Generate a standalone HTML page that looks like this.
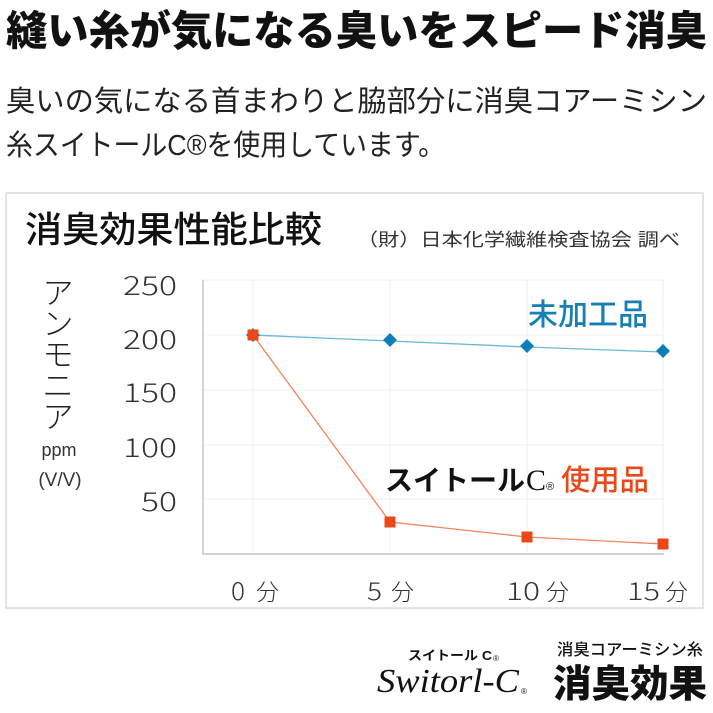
<!DOCTYPE html>
<html><head><meta charset="utf-8"><style>
html,body{margin:0;padding:0;background:#fff;width:713px;height:713px;overflow:hidden}
svg{display:block}
.jp{font-family:"Liberation Sans","Noto Sans CJK JP",sans-serif}
.num{font-family:"Noto Sans CJK JP","Liberation Sans",sans-serif;font-weight:300}
</style></head><body>
<svg width="713" height="713" viewBox="0 0 713 713" xmlns="http://www.w3.org/2000/svg">
<rect width="713" height="713" fill="#fff"/>
<text class="jp" x="6" y="45" font-size="41" font-weight="900" fill="#111" textLength="701" lengthAdjust="spacingAndGlyphs">縫い糸が気になる臭いをスピード消臭</text>
<text class="jp" x="6" y="111" font-size="29" font-weight="400" fill="#222" textLength="701" lengthAdjust="spacingAndGlyphs">臭いの気になる首まわりと脇部分に消臭コアーミシン</text>
<text class="jp" x="6" y="155" font-size="29" font-weight="400" fill="#222" textLength="439" lengthAdjust="spacingAndGlyphs">糸スイトールC®を使用しています。</text>

<rect x="6" y="193" width="697" height="415" fill="#fff" stroke="#dcdcdc" stroke-width="1.5"/>
<text class="jp" x="25" y="242" font-size="36" font-weight="500" fill="#111" textLength="297" lengthAdjust="spacingAndGlyphs">消臭効果性能比較</text>
<text class="jp" x="357" y="246" font-size="18" font-weight="400" fill="#333" textLength="323" lengthAdjust="spacingAndGlyphs">（財）日本化学繊維検査協会 調べ</text>

<!-- grid -->
<g stroke="#efefef" stroke-width="1">
<line x1="203" y1="280" x2="663" y2="280"/>
<line x1="203" y1="335" x2="663" y2="335"/>
<line x1="203" y1="390" x2="663" y2="390"/>
<line x1="203" y1="445" x2="663" y2="445"/>
<line x1="203" y1="499" x2="663" y2="499"/>
<line x1="253" y1="280" x2="253" y2="554"/>
<line x1="390" y1="280" x2="390" y2="554"/>
<line x1="527" y1="280" x2="527" y2="554"/>
<line x1="663" y1="280" x2="663" y2="554"/>
</g>
<line x1="203" y1="280" x2="203" y2="555" stroke="#d4d4d4" stroke-width="2"/>
<line x1="202" y1="554" x2="664" y2="554" stroke="#d4d4d4" stroke-width="2"/>

<!-- y ticks -->
<g class="num" font-size="26" fill="#333">
<text x="123" y="295" textLength="54" lengthAdjust="spacingAndGlyphs">250</text>
<text x="123" y="349" textLength="54" lengthAdjust="spacingAndGlyphs">200</text>
<text x="123" y="402" textLength="54" lengthAdjust="spacingAndGlyphs">150</text>
<text x="123" y="457" textLength="54" lengthAdjust="spacingAndGlyphs">100</text>
<text x="141" y="511" textLength="36" lengthAdjust="spacingAndGlyphs">50</text>
</g>

<!-- y axis title -->
<g class="jp" font-size="31" font-weight="300" fill="#222" text-anchor="middle">
<text x="58" y="304">ア</text>
<text x="58" y="335">ン</text>
<text x="58" y="366">モ</text>
<text x="58" y="397">ニ</text>
<text x="58" y="428">ア</text>
</g>
<text x="59" y="456" font-family="Liberation Sans, sans-serif" font-size="18" fill="#333" text-anchor="middle">ppm</text>
<text x="60" y="486" font-family="Liberation Sans, sans-serif" font-size="19" fill="#333" text-anchor="middle">(V/V)</text>

<!-- x labels -->
<g class="num" font-size="25" fill="#333">
<text x="231" y="600" textLength="14" lengthAdjust="spacingAndGlyphs">0</text>
<text x="367" y="600" textLength="15" lengthAdjust="spacingAndGlyphs">5</text>
<text x="506" y="600" textLength="34" lengthAdjust="spacingAndGlyphs">10</text>
<text x="627" y="600" textLength="33" lengthAdjust="spacingAndGlyphs">15</text>
</g>
<g class="jp" font-size="23" font-weight="300" fill="#333">
<text x="256" y="600">分</text>
<text x="391" y="600">分</text>
<text x="546" y="600">分</text>
<text x="665" y="600">分</text>
</g>

<!-- series -->
<polyline points="253,335 390,341 527,347 663,352" fill="none" stroke="#6db7da" stroke-width="1.3"/>
<polyline points="253,335 390,522 527,537 663,544" fill="none" stroke="#f2845f" stroke-width="1.3"/>
<g fill="#0e7fb6">
<polygon points="253,328 260,335 253,342 246,335"/>
<polygon points="390,333 397,340 390,347 383,340"/>
<polygon points="527,339 534,346 527,353 520,346"/>
<polygon points="663,344 670,351 663,358 656,351"/>
</g>
<g fill="#e8481a">
<rect x="247.5" y="329.5" width="11" height="11"/>
<rect x="384.5" y="516.5" width="11" height="11"/>
<rect x="521.5" y="531.5" width="11" height="11"/>
<rect x="657.5" y="538.5" width="11" height="11"/>
</g>

<!-- legends -->
<text class="jp" x="528" y="325" font-size="30" font-weight="500" fill="#1580b5" textLength="120" lengthAdjust="spacingAndGlyphs">未加工品</text>
<text class="jp" x="385" y="490" font-size="28" font-weight="700" fill="#111" textLength="140" lengthAdjust="spacingAndGlyphs">スイトール</text>
<text x="526" y="490" font-family="Liberation Serif, serif" font-size="30" font-weight="400" fill="#111">C</text>
<text x="546" y="490" font-family="Liberation Sans, sans-serif" font-size="11" fill="#111">®</text>
<text class="jp" x="561" y="490" font-size="29" font-weight="500" fill="#e8481a" textLength="88" lengthAdjust="spacingAndGlyphs">使用品</text>

<!-- bottom logo -->
<text class="jp" x="408" y="660" font-size="13" font-weight="700" fill="#111" textLength="84" lengthAdjust="spacingAndGlyphs">スイトール C</text>
<text x="493" y="661" font-family="Liberation Sans, sans-serif" font-size="8" fill="#111">®</text>
<text x="377" y="692" font-family="Liberation Serif, serif" font-style="italic" font-size="34" fill="#111" textLength="142" lengthAdjust="spacingAndGlyphs">Switorl-C</text>
<text x="521" y="694" font-family="Liberation Sans, sans-serif" font-size="8" fill="#111">®</text>
<text class="jp" x="557" y="655" font-size="16" font-weight="500" fill="#111" textLength="146" lengthAdjust="spacingAndGlyphs">消臭コアーミシン糸</text>
<text class="jp" x="553" y="697" font-size="38" font-weight="900" fill="#111" textLength="154" lengthAdjust="spacingAndGlyphs">消臭効果</text>
</svg>
</body></html>
